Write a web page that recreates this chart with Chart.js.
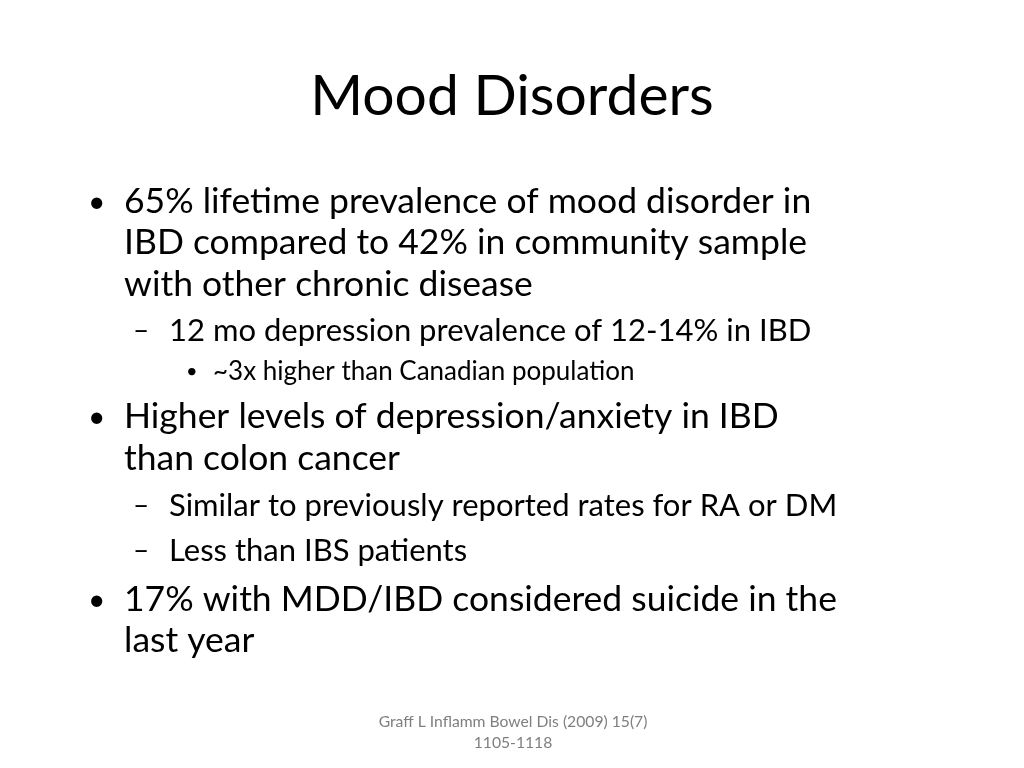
<!DOCTYPE html>
<html><head><meta charset="utf-8">
<script src="https://cdn.jsdelivr.net/npm/chart.js@4"></script>
<style>html,body{margin:0;background:#fff}#wrap{width:1024px;height:768px}</style>
</head><body><div id="wrap"><canvas id="c" width="1024" height="768"></canvas></div>
<script>
const titleText = "Mood Disorders";
const lineTexts = [
  "65% lifetime prevalence of mood disorder in",
  "IBD compared to 42% in community sample",
  "with other chronic disease",
  "12 mo depression prevalence of 12-14% in IBD",
  "~3x higher than Canadian population",
  "Higher levels of depression/anxiety in IBD",
  "than colon cancer",
  "Similar to previously reported rates for RA or DM",
  "Less than IBS patients",
  "17% with MDD/IBD considered suicide in the",
  "last year"
];
const lineLevels = [1,1,1,2,3,1,1,2,2,1,1];
const lineMarkers = [true,false,false,true,true,true,false,true,true,true,false];
const footerTexts = ["Graff L Inflamm Bowel Dis (2009) 15(7)", "1105-1118"];

const lineY = [202,243,285,331,372,417,459,506,551,600,641];
const levelStyle = {
  1:{mx:88, tx:124, size:35.5, mark:"•", msize:30},
  2:{mx:133, tx:169, size:31, mark:"–", msize:28},
  3:{mx:186, tx:213, size:26, mark:"•", msize:20}
};
const FONT = "Lato, 'Open Sans', sans-serif";

const slideText = {
  id:'slideText',
  afterDraw(chart){
    const ctx = chart.ctx;
    ctx.save();
    ctx.fillStyle = "#000";
    ctx.textBaseline = "middle";
    ctx.textAlign = "center";
    ctx.font = "57px " + FONT;
    ctx.fillText(titleText, 512, 97);
    ctx.textAlign = "left";
    lineTexts.forEach((t,i)=>{
      const s = levelStyle[lineLevels[i]];
      if (lineMarkers[i]) { ctx.font = s.msize + "px " + FONT; ctx.fillText(s.mark, s.mx, lineY[i]); }
      ctx.font = s.size + "px " + FONT;
      ctx.fillText(t, s.tx, lineY[i]);
    });
    ctx.fillStyle = "#7f7f7f";
    ctx.textAlign = "center";
    ctx.font = "15.7px " + FONT;
    footerTexts.forEach((t,i)=>ctx.fillText(t, 513, 722 + i*21));
    ctx.restore();
  }
};

new Chart(document.getElementById('c'), {
  type:'scatter',
  data:{datasets:[{data:[]}]},
  options:{
    responsive:false, animation:false,
    plugins:{legend:{display:false}, tooltip:{enabled:false}},
    scales:{x:{display:false}, y:{display:false}}
  },
  plugins:[slideText]
});
</script></body></html>
